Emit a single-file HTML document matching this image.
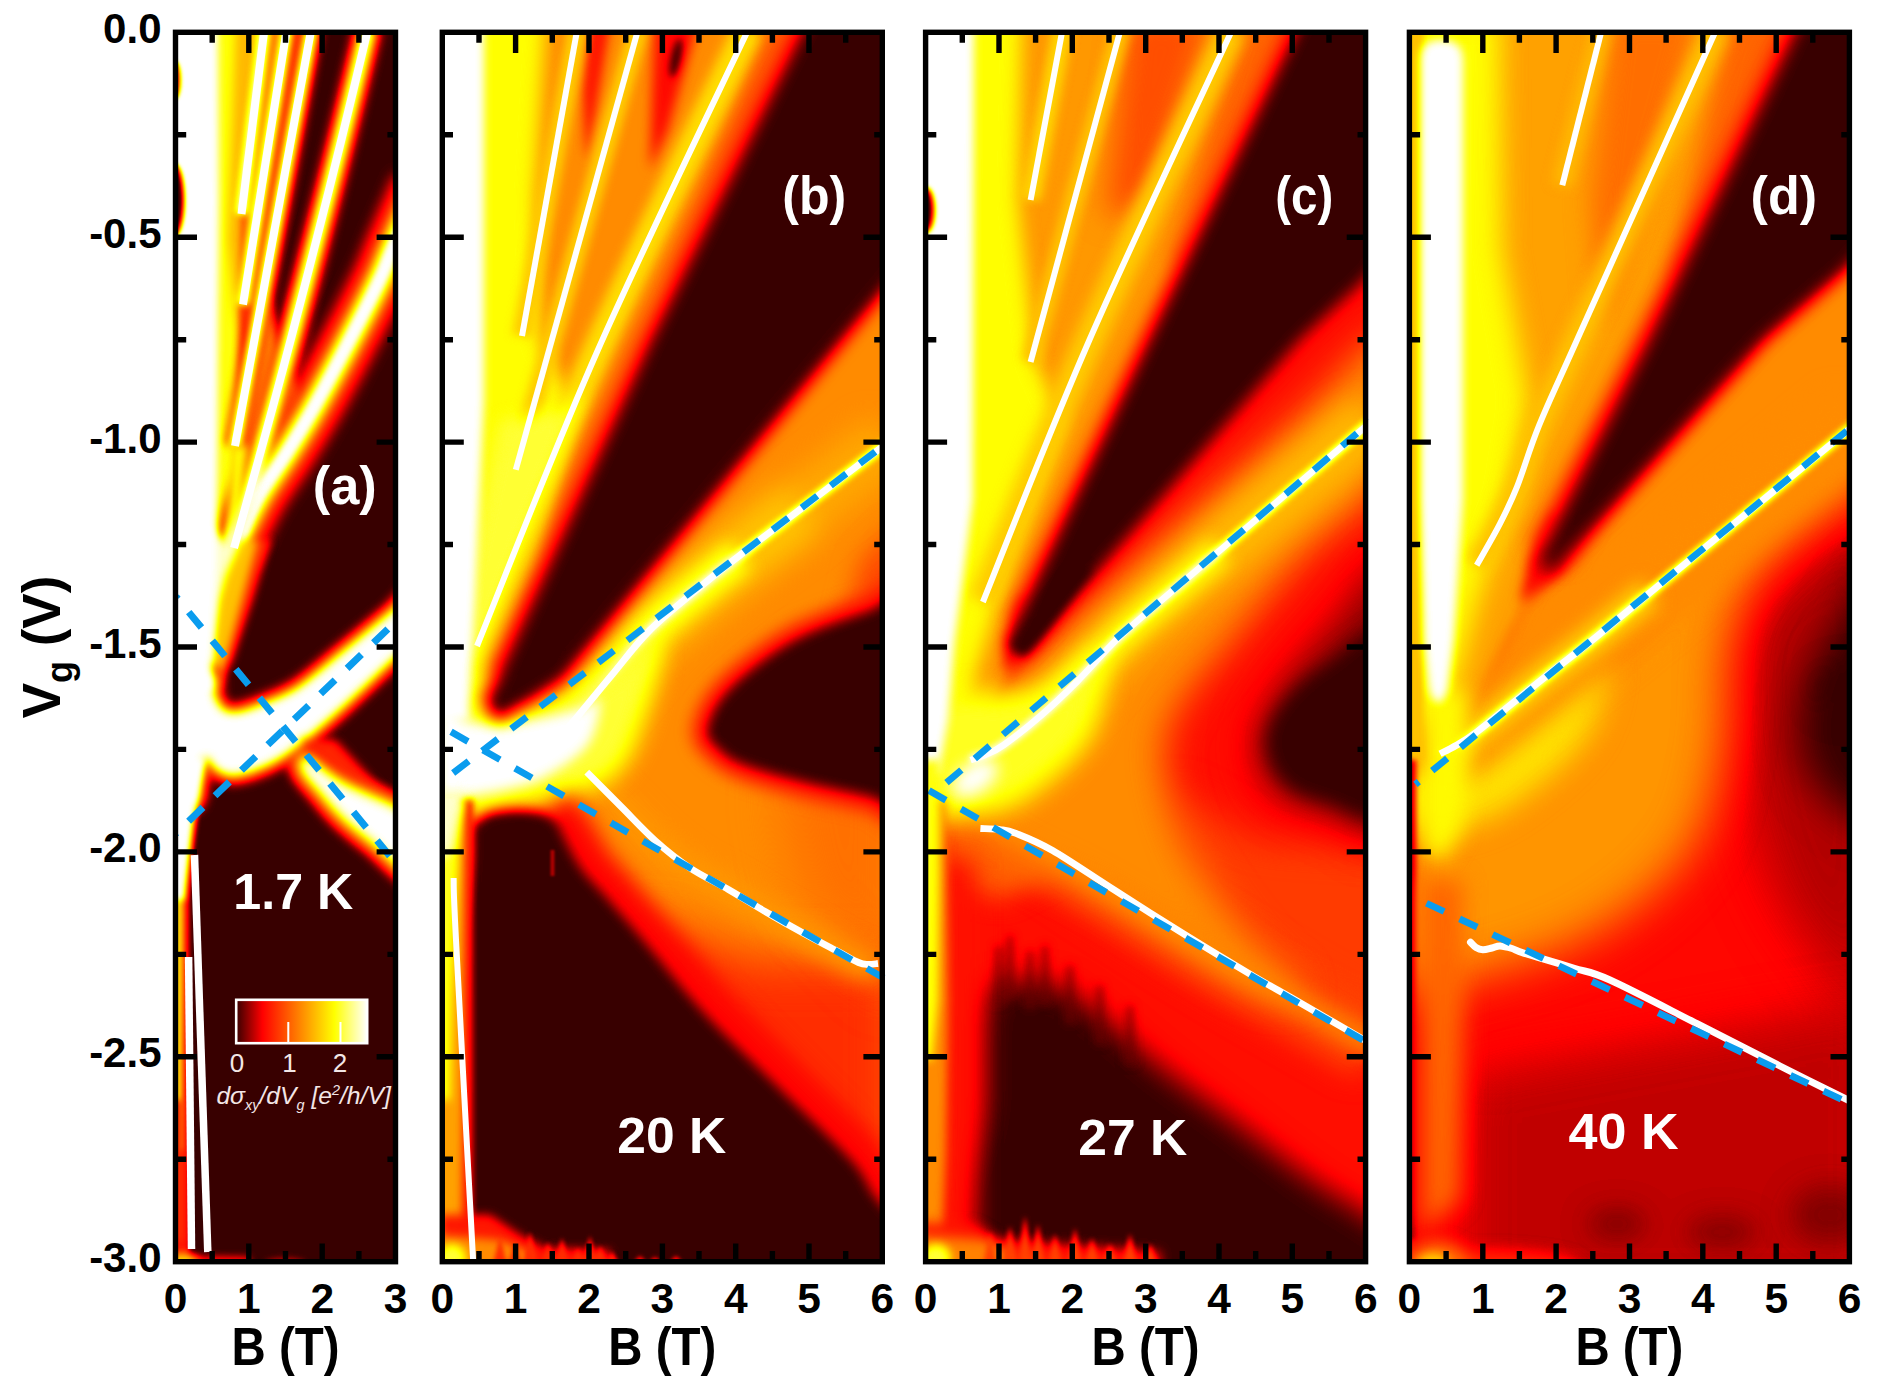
<!DOCTYPE html>
<html><head><meta charset="utf-8"><title>Figure</title><style>html,body{margin:0;padding:0;background:#fff}svg{display:block}</style></head><body>
<svg width="1879" height="1391" viewBox="0 0 1879 1391">
<defs>
<filter id="cmap" color-interpolation-filters="sRGB" filterUnits="userSpaceOnUse" x="0" y="0" width="1879" height="1391"><feComponentTransfer><feFuncR type="table" tableValues="0.220 0.318 0.415 0.512 0.610 0.708 0.805 0.902 1.000 1.000 1.000 1.000 1.000 1.000 1.000 1.000 1.000 1.000 1.000 1.000 1.000 1.000 1.000 1.000 1.000 1.000 1.000 1.000 1.000 1.000 1.000 1.000 1.000 1.000 1.000 1.000 1.000 1.000 1.000 1.000 1.000"/><feFuncG type="table" tableValues="0.000 0.000 0.000 0.000 0.000 0.000 0.000 0.000 0.000 0.045 0.091 0.136 0.182 0.227 0.273 0.318 0.364 0.409 0.455 0.500 0.545 0.591 0.636 0.682 0.727 0.773 0.818 0.864 0.909 0.955 1.000 1.000 1.000 1.000 1.000 1.000 1.000 1.000 1.000 1.000 1.000"/><feFuncB type="table" tableValues="0.000 0.000 0.000 0.000 0.000 0.000 0.000 0.000 0.000 0.000 0.000 0.000 0.000 0.000 0.000 0.000 0.000 0.000 0.000 0.000 0.000 0.000 0.000 0.000 0.000 0.000 0.000 0.000 0.000 0.000 0.000 0.100 0.200 0.300 0.400 0.500 0.600 0.700 0.800 0.900 1.000"/></feComponentTransfer></filter>
<filter id="b1" color-interpolation-filters="sRGB" filterUnits="userSpaceOnUse" x="0" y="0" width="1879" height="1391"><feGaussianBlur stdDeviation="1"/></filter>
<filter id="b2" color-interpolation-filters="sRGB" filterUnits="userSpaceOnUse" x="0" y="0" width="1879" height="1391"><feGaussianBlur stdDeviation="2"/></filter>
<filter id="b2_5" color-interpolation-filters="sRGB" filterUnits="userSpaceOnUse" x="0" y="0" width="1879" height="1391"><feGaussianBlur stdDeviation="2.5"/></filter>
<filter id="b3" color-interpolation-filters="sRGB" filterUnits="userSpaceOnUse" x="0" y="0" width="1879" height="1391"><feGaussianBlur stdDeviation="3"/></filter>
<filter id="b3_5" color-interpolation-filters="sRGB" filterUnits="userSpaceOnUse" x="0" y="0" width="1879" height="1391"><feGaussianBlur stdDeviation="3.5"/></filter>
<filter id="b4" color-interpolation-filters="sRGB" filterUnits="userSpaceOnUse" x="0" y="0" width="1879" height="1391"><feGaussianBlur stdDeviation="4"/></filter>
<filter id="b4_5" color-interpolation-filters="sRGB" filterUnits="userSpaceOnUse" x="0" y="0" width="1879" height="1391"><feGaussianBlur stdDeviation="4.5"/></filter>
<filter id="b5" color-interpolation-filters="sRGB" filterUnits="userSpaceOnUse" x="0" y="0" width="1879" height="1391"><feGaussianBlur stdDeviation="5"/></filter>
<filter id="b6" color-interpolation-filters="sRGB" filterUnits="userSpaceOnUse" x="0" y="0" width="1879" height="1391"><feGaussianBlur stdDeviation="6"/></filter>
<filter id="b7" color-interpolation-filters="sRGB" filterUnits="userSpaceOnUse" x="0" y="0" width="1879" height="1391"><feGaussianBlur stdDeviation="7"/></filter>
<filter id="b8" color-interpolation-filters="sRGB" filterUnits="userSpaceOnUse" x="0" y="0" width="1879" height="1391"><feGaussianBlur stdDeviation="8"/></filter>
<filter id="b9" color-interpolation-filters="sRGB" filterUnits="userSpaceOnUse" x="0" y="0" width="1879" height="1391"><feGaussianBlur stdDeviation="9"/></filter>
<filter id="b10" color-interpolation-filters="sRGB" filterUnits="userSpaceOnUse" x="0" y="0" width="1879" height="1391"><feGaussianBlur stdDeviation="10"/></filter>
<filter id="b11" color-interpolation-filters="sRGB" filterUnits="userSpaceOnUse" x="0" y="0" width="1879" height="1391"><feGaussianBlur stdDeviation="11"/></filter>
<filter id="b12" color-interpolation-filters="sRGB" filterUnits="userSpaceOnUse" x="0" y="0" width="1879" height="1391"><feGaussianBlur stdDeviation="12"/></filter>
<filter id="b13" color-interpolation-filters="sRGB" filterUnits="userSpaceOnUse" x="0" y="0" width="1879" height="1391"><feGaussianBlur stdDeviation="13"/></filter>
<filter id="b14" color-interpolation-filters="sRGB" filterUnits="userSpaceOnUse" x="0" y="0" width="1879" height="1391"><feGaussianBlur stdDeviation="14"/></filter>
<filter id="b15" color-interpolation-filters="sRGB" filterUnits="userSpaceOnUse" x="0" y="0" width="1879" height="1391"><feGaussianBlur stdDeviation="15"/></filter>
<filter id="b18" color-interpolation-filters="sRGB" filterUnits="userSpaceOnUse" x="0" y="0" width="1879" height="1391"><feGaussianBlur stdDeviation="18"/></filter>
<filter id="b20" color-interpolation-filters="sRGB" filterUnits="userSpaceOnUse" x="0" y="0" width="1879" height="1391"><feGaussianBlur stdDeviation="20"/></filter>
<filter id="b24" color-interpolation-filters="sRGB" filterUnits="userSpaceOnUse" x="0" y="0" width="1879" height="1391"><feGaussianBlur stdDeviation="24"/></filter>
<filter id="b25" color-interpolation-filters="sRGB" filterUnits="userSpaceOnUse" x="0" y="0" width="1879" height="1391"><feGaussianBlur stdDeviation="25"/></filter>
<filter id="b28" color-interpolation-filters="sRGB" filterUnits="userSpaceOnUse" x="0" y="0" width="1879" height="1391"><feGaussianBlur stdDeviation="28"/></filter>
<clipPath id="clipa"><rect x="175.5" y="32.3" width="220.0" height="1229.4"/></clipPath>
<clipPath id="clipb"><rect x="442.3" y="32.3" width="440.0" height="1229.4"/></clipPath>
<clipPath id="clipc"><rect x="925.6" y="32.3" width="440.0" height="1229.4"/></clipPath>
<clipPath id="clipd"><rect x="1409.4" y="32.3" width="440.0" height="1229.4"/></clipPath>
<linearGradient id="cbar" x1="0" x2="1" y1="0" y2="0"><stop offset="0" stop-color="#380000"/><stop offset="0.2" stop-color="#ff0000"/><stop offset="0.75" stop-color="#ffff00"/><stop offset="1" stop-color="#ffffff"/></linearGradient>
</defs>
<g clip-path="url(#clipa)"><g filter="url(#cmap)"><rect x="165.5" y="22.3" width="240.0" height="1249.4" fill="#000"/><g filter="url(#b5)"><polygon points="200.0,15.0 270.0,15.0 245.0,214.0 238.0,446.0 232.0,551.0 214.0,692.0 200.0,692.0" fill="rgb(194,194,194)"/><polygon points="236.0,15.0 264.0,15.0 241.0,214.0 236.0,330.0 228.0,240.0" fill="rgb(153,153,153)"/></g><g filter="url(#b4)"><polygon points="262.0,15.0 290.0,15.0 245.0,304.0 240.0,380.0 241.0,214.0" fill="rgb(112,112,112)"/><polygon points="286.0,15.0 314.0,15.0 266.0,280.0 248.0,340.0 244.0,304.0" fill="rgb(74,74,74)"/></g><g filter="url(#b5)"><polygon points="266.0,290.0 282.0,355.0 240.0,520.0 238.0,446.0" fill="rgb(128,128,128)"/><polygon points="290.0,372.0 304.0,400.0 245.0,520.0 250.0,470.0" fill="rgb(128,128,128)"/></g><g filter="url(#b4)"><path d="M311.5 28.0 L235.0 446.0" fill="none" stroke="rgb(76,76,76)" stroke-width="22.0" stroke-linecap="butt" stroke-linejoin="round"/></g><g filter="url(#b5)"><path d="M368.2 28.0 C364.9 41.7 355.2 83.0 348.6 110.0 C342.1 137.0 336.1 161.7 329.0 190.0 C321.9 218.3 313.7 250.7 306.2 280.0 C298.7 309.3 291.4 337.3 283.8 366.0 C276.2 394.7 268.9 421.7 260.6 452.0 C252.3 482.3 238.5 532.0 234.0 548.0" fill="none" stroke="rgb(76,76,76)" stroke-width="28.0" stroke-linecap="butt" stroke-linejoin="round"/></g><g filter="url(#b7)"><path d="M420.0 185.0 C415.3 195.8 398.7 234.2 392.0 250.0 C385.3 265.8 387.1 264.2 379.6 280.0 C372.1 295.8 358.4 323.1 347.2 344.7 C336.0 366.3 322.8 391.4 312.7 409.4 C302.6 427.4 295.9 438.1 286.9 452.5 C277.9 466.9 267.1 481.3 258.8 495.7 C250.5 510.1 242.3 528.9 237.3 538.8 C232.3 548.7 230.4 552.3 229.0 555.0" fill="none" stroke="rgb(76,76,76)" stroke-width="54.0" stroke-linecap="butt" stroke-linejoin="round"/></g><g filter="url(#b3_5)"><path d="M264.5 28.0 L241.5 214.0" fill="none" stroke="rgb(255,255,255)" stroke-width="11.0" stroke-linecap="butt" stroke-linejoin="round"/><path d="M287.0 28.0 L243.0 304.5" fill="none" stroke="rgb(255,255,255)" stroke-width="11.0" stroke-linecap="butt" stroke-linejoin="round"/><path d="M311.5 28.0 L235.0 446.0" fill="none" stroke="rgb(255,255,255)" stroke-width="11.0" stroke-linecap="butt" stroke-linejoin="round"/></g><g filter="url(#b4_5)"><path d="M368.2 28.0 C364.9 41.7 355.2 83.0 348.6 110.0 C342.1 137.0 336.1 161.7 329.0 190.0 C321.9 218.3 313.7 250.7 306.2 280.0 C298.7 309.3 291.4 337.3 283.8 366.0 C276.2 394.7 268.9 421.7 260.6 452.0 C252.3 482.3 238.5 532.0 234.0 548.0" fill="none" stroke="rgb(255,255,255)" stroke-width="14.0" stroke-linecap="butt" stroke-linejoin="round"/></g><g filter="url(#b6)"><path d="M420.0 185.0 C415.3 195.8 398.7 234.2 392.0 250.0 C385.3 265.8 387.1 264.2 379.6 280.0 C372.1 295.8 358.4 323.1 347.2 344.7 C336.0 366.3 322.8 391.4 312.7 409.4 C302.6 427.4 295.9 438.1 286.9 452.5 C277.9 466.9 267.1 481.3 258.8 495.7 C250.5 510.1 242.3 528.9 237.3 538.8 C232.3 548.7 230.4 552.3 229.0 555.0" fill="none" stroke="rgb(255,255,255)" stroke-width="22.0" stroke-linecap="butt" stroke-linejoin="round"/></g><g filter="url(#b2_5)"><path d="M420.0 185.0 C415.3 195.8 398.7 234.2 392.0 250.0 C385.3 265.8 387.1 264.2 379.6 280.0 C372.1 295.8 358.4 323.1 347.2 344.7 C336.0 366.3 322.8 391.4 312.7 409.4 C302.6 427.4 295.9 438.1 286.9 452.5 C277.9 466.9 267.1 481.3 258.8 495.7 C250.5 510.1 242.3 528.9 237.3 538.8 C232.3 548.7 230.4 552.3 229.0 555.0" fill="none" stroke="rgb(255,255,255)" stroke-width="9.0" stroke-linecap="butt" stroke-linejoin="round"/></g><g filter="url(#b4)"><polygon points="205.0,540.0 270.0,540.0 252.0,600.0 232.0,660.0 216.0,692.0 205.0,700.0" fill="rgb(76,76,76)"/><polygon points="205.0,540.0 258.0,540.0 242.0,600.0 226.0,660.0 213.0,690.0 205.0,700.0" fill="rgb(158,158,158)"/><polygon points="232.0,446.0 247.0,446.0 238.0,540.0 226.0,552.0" fill="rgb(194,194,194)"/><polygon points="205.0,520.0 226.0,545.0 240.0,515.0 252.0,495.0 262.0,480.0 250.0,520.0 238.0,548.0 226.0,575.0 219.0,600.0 213.0,640.0 209.0,680.0 205.0,690.0" fill="rgb(242,242,242)"/></g><g filter="url(#b5)"><path d="M420.0 588.0 C415.3 584.8 404.8 602.1 392.0 613.0 C379.2 623.9 358.6 640.8 343.0 653.5 C327.4 666.2 311.6 680.5 298.6 689.0 C285.6 697.5 275.0 700.6 265.0 704.7 C255.0 708.8 245.5 712.5 238.5 713.6 C231.5 714.7 227.2 714.3 223.0 711.4 C218.8 708.5 215.3 702.1 213.0 696.0 C210.7 689.9 217.8 678.5 209.0 675.0 C200.2 671.5 168.2 654.2 160.0 675.0 C151.8 695.8 154.7 778.7 160.0 800.0 C165.3 821.3 185.3 806.0 191.7 802.7 C198.1 799.5 196.5 788.0 198.4 780.5 C200.3 773.0 201.3 762.1 203.0 758.0 C204.7 753.9 206.2 754.5 208.4 756.0 C210.6 757.5 212.1 764.0 216.0 767.0 C219.9 770.0 225.5 773.5 231.8 773.8 C238.1 774.1 245.8 772.0 254.0 769.0 C262.2 766.0 271.5 761.9 280.8 756.0 C290.1 750.1 299.4 742.2 309.8 733.7 C320.2 725.2 329.3 717.3 343.0 704.7 C356.7 692.1 379.2 670.1 392.0 658.0 C404.8 645.9 415.3 643.7 420.0 632.0 C424.7 620.3 424.7 591.2 420.0 588.0Z" fill="none" stroke="rgb(76,76,76)" stroke-width="22"/><path d="M306.0 756.0 C313.2 757.8 324.0 770.0 343.0 781.0 C362.0 792.0 407.2 805.2 420.0 822.0 C432.8 838.8 428.0 878.2 420.0 882.0 C412.0 885.8 385.3 855.7 372.0 845.0 C358.7 834.3 349.0 826.7 340.0 818.0 C331.0 809.3 324.7 801.0 318.0 793.0 C311.3 785.0 302.0 776.2 300.0 770.0 C298.0 763.8 298.8 754.2 306.0 756.0Z" fill="none" stroke="rgb(76,76,76)" stroke-width="22"/></g><g filter="url(#b3_5)"><polygon points="160.0,15.0 218.0,15.0 219.0,200.0 217.0,560.0 211.0,690.0 160.0,690.0" fill="rgb(255,255,255)"/></g><g filter="url(#b2)"><ellipse cx="174.0" cy="200.0" rx="10.0" ry="36.0" fill="rgb(0,0,0)"/><ellipse cx="175.0" cy="80.0" rx="5.0" ry="18.0" fill="rgb(38,38,38)"/></g><g filter="url(#b5)"><path d="M420.0 588.0 C415.3 584.8 404.8 602.1 392.0 613.0 C379.2 623.9 358.6 640.8 343.0 653.5 C327.4 666.2 311.6 680.5 298.6 689.0 C285.6 697.5 275.0 700.6 265.0 704.7 C255.0 708.8 245.5 712.5 238.5 713.6 C231.5 714.7 227.2 714.3 223.0 711.4 C218.8 708.5 215.3 702.1 213.0 696.0 C210.7 689.9 217.8 678.5 209.0 675.0 C200.2 671.5 168.2 654.2 160.0 675.0 C151.8 695.8 154.7 778.7 160.0 800.0 C165.3 821.3 185.3 806.0 191.7 802.7 C198.1 799.5 196.5 788.0 198.4 780.5 C200.3 773.0 201.3 762.1 203.0 758.0 C204.7 753.9 206.2 754.5 208.4 756.0 C210.6 757.5 212.1 764.0 216.0 767.0 C219.9 770.0 225.5 773.5 231.8 773.8 C238.1 774.1 245.8 772.0 254.0 769.0 C262.2 766.0 271.5 761.9 280.8 756.0 C290.1 750.1 299.4 742.2 309.8 733.7 C320.2 725.2 329.3 717.3 343.0 704.7 C356.7 692.1 379.2 670.1 392.0 658.0 C404.8 645.9 415.3 643.7 420.0 632.0 C424.7 620.3 424.7 591.2 420.0 588.0Z" fill="rgb(255,255,255)" stroke="rgb(255,255,255)" stroke-width="5"/><polygon points="300.0,738.0 335.0,740.0 375.0,783.0 395.0,800.0 395.0,815.0 340.0,785.0" fill="rgb(71,71,71)"/></g><g filter="url(#b6)"><path d="M306.0 756.0 C313.2 757.8 324.0 770.0 343.0 781.0 C362.0 792.0 407.2 805.2 420.0 822.0 C432.8 838.8 428.0 878.2 420.0 882.0 C412.0 885.8 385.3 855.7 372.0 845.0 C358.7 834.3 349.0 826.7 340.0 818.0 C331.0 809.3 324.7 801.0 318.0 793.0 C311.3 785.0 302.0 776.2 300.0 770.0 C298.0 763.8 298.8 754.2 306.0 756.0Z" fill="rgb(255,255,255)"/></g><g filter="url(#b2_5)"><polygon points="160.0,800.0 190.0,800.0 189.0,900.0 189.0,1262.0 160.0,1262.0" fill="rgb(64,64,64)"/><polygon points="160.0,800.0 184.0,800.0 183.0,1000.0 182.0,1150.0 160.0,1150.0" fill="rgb(168,168,168)"/></g><g filter="url(#b3)"><polygon points="160.0,1100.0 183.0,1100.0 183.0,1240.0 160.0,1240.0" fill="rgb(76,76,76)"/><polygon points="160.0,760.0 204.0,758.0 198.0,795.0 193.0,830.0 188.0,870.0 184.0,900.0 160.0,900.0" fill="rgb(255,255,255)"/></g><g filter="url(#b3_5)"><polygon points="160.0,1256.0 250.0,1257.0 250.0,1275.0 160.0,1275.0" fill="rgb(64,64,64)"/></g><g filter="url(#b4)"><ellipse cx="182.0" cy="1264.0" rx="16.0" ry="10.0" fill="rgb(178,178,178)"/></g><g filter="url(#b3)"><ellipse cx="285.0" cy="1264.0" rx="20.0" ry="5.0" fill="rgb(51,51,51)"/></g></g></g>
<g clip-path="url(#clipb)"><g filter="url(#cmap)"><rect x="432.3" y="22.3" width="460.0" height="1249.4" fill="#000"/><polygon points="430.0,15.0 900.0,15.0 900.0,1280.0 430.0,1280.0" fill="rgb(128,128,128)"/><g filter="url(#b9)"><polygon points="430.0,15.0 546.0,15.0 535.0,200.0 540.0,340.0 572.0,400.0 540.0,560.0 480.0,700.0 430.0,700.0" fill="rgb(191,191,191)"/></g><g filter="url(#b5)"><polygon points="590.0,15.0 612.0,15.0 596.0,110.0 585.0,160.0 583.0,90.0" fill="rgb(64,64,64)"/></g><g filter="url(#b6)"><polygon points="655.0,15.0 700.0,15.0 668.0,130.0 650.0,170.0 652.0,90.0" fill="rgb(56,56,56)"/></g><g filter="url(#b3_5)"><ellipse cx="676.0" cy="58.0" rx="5.0" ry="20.0" fill="rgb(0,0,0)" transform="rotate(12.0 676.0 58.0)"/></g><g filter="url(#b8)"><polygon points="770.0,15.0 830.0,15.0 700.0,280.0 670.0,280.0" fill="rgb(107,107,107)"/></g><g filter="url(#b6)"><path d="M749.0 28.0 C723.7 82.0 642.3 249.0 597.0 352.0 C551.7 455.0 497.0 597.0 477.0 646.0" fill="none" stroke="rgb(173,173,173)" stroke-width="30.0" stroke-linecap="butt" stroke-linejoin="round"/></g><g filter="url(#b4)"><path d="M638.5 28.0 L515.8 469.7" fill="none" stroke="rgb(163,163,163)" stroke-width="20.0" stroke-linecap="butt" stroke-linejoin="round"/><path d="M577.5 28.0 L522.0 336.0" fill="none" stroke="rgb(163,163,163)" stroke-width="20.0" stroke-linecap="butt" stroke-linejoin="round"/></g><g filter="url(#b8)"><polygon points="500.0,420.0 560.0,410.0 585.0,390.0 520.0,560.0 470.0,700.0 440.0,700.0" fill="rgb(204,204,204)"/></g><g filter="url(#b14)"><path d="M560.0 737.0 C563.0 733.5 569.5 726.2 578.0 716.0 C586.5 705.8 599.0 690.3 611.0 676.0 C623.0 661.7 635.2 644.8 650.0 630.0 C664.8 615.2 685.0 599.5 700.0 587.0 C715.0 574.5 723.0 568.4 740.0 555.2 C757.0 542.0 777.0 527.0 802.0 508.0 C827.0 489.0 875.3 452.2 890.0 441.0" fill="none" stroke="rgb(143,143,143)" stroke-width="60.0" stroke-linecap="butt" stroke-linejoin="round"/><path d="M560.0 737.0 C563.0 733.5 569.5 726.2 578.0 716.0 C586.5 705.8 599.0 690.3 611.0 676.0 C623.0 661.7 635.2 644.8 650.0 630.0 C664.8 615.2 685.0 599.5 700.0 587.0 C715.0 574.5 723.0 568.4 740.0 555.2 C757.0 542.0 791.7 515.9 802.0 508.0" fill="none" stroke="rgb(158,158,158)" stroke-width="64.0" stroke-linecap="butt" stroke-linejoin="round"/></g><g filter="url(#b9)"><path d="M560.0 737.0 C563.0 733.5 569.5 726.2 578.0 716.0 C586.5 705.8 599.0 690.3 611.0 676.0 C623.0 661.7 635.2 644.8 650.0 630.0 C664.8 615.2 685.0 599.5 700.0 587.0 C715.0 574.5 733.3 560.5 740.0 555.2" fill="none" stroke="rgb(204,204,204)" stroke-width="34.0" stroke-linecap="butt" stroke-linejoin="round"/></g><g filter="url(#b3)"><path d="M560.0 737.0 C563.0 733.5 569.5 726.2 578.0 716.0 C586.5 705.8 599.0 690.3 611.0 676.0 C623.0 661.7 635.2 644.8 650.0 630.0 C664.8 615.2 685.0 599.5 700.0 587.0 C715.0 574.5 723.0 568.4 740.0 555.2 C757.0 542.0 777.0 527.0 802.0 508.0 C827.0 489.0 875.3 452.2 890.0 441.0" fill="none" stroke="rgb(255,255,255)" stroke-width="9.0" stroke-linecap="butt" stroke-linejoin="round"/></g><g filter="url(#b12)"><polygon points="900.0,520.0 900.0,640.0 840.0,640.0 860.0,560.0" fill="rgb(92,92,92)"/></g><g filter="url(#b24)"><polygon points="900.0,960.0 900.0,1280.0 640.0,1280.0 640.0,920.0 760.0,960.0" fill="rgb(76,76,76)"/></g><g filter="url(#b25)"><polygon points="900.0,640.0 900.0,1000.0 800.0,900.0 780.0,800.0 800.0,700.0" fill="rgb(107,107,107)" opacity="0.70"/></g><g filter="url(#b10)"><path d="M586.8 772.2 C592.5 777.9 609.6 795.1 621.0 806.5 C632.4 817.9 643.9 830.5 655.3 840.7 C666.7 850.9 677.4 859.5 689.6 867.7 C701.9 875.9 716.1 882.4 728.8 889.7 C741.4 897.0 753.3 904.6 765.5 911.7 C777.7 918.8 790.0 925.8 802.2 932.5 C814.4 939.2 829.5 947.1 838.9 952.1 C848.3 957.1 853.6 960.4 858.5 962.5 C863.4 964.6 864.8 964.3 868.0 964.5 C871.2 964.7 876.3 963.7 878.0 963.5" fill="none" stroke="rgb(133,133,133)" stroke-width="30.0" stroke-linecap="butt" stroke-linejoin="round"/></g><g filter="url(#b11)"><path d="M440.0 690.0 C450.0 671.7 480.0 698.3 500.0 700.0 C520.0 701.7 541.7 705.0 560.0 700.0 C578.3 695.0 593.3 680.0 610.0 670.0 C626.7 660.0 654.2 631.7 660.0 640.0 C665.8 648.3 653.3 696.7 645.0 720.0 C636.7 743.3 630.8 765.8 610.0 780.0 C589.2 794.2 548.3 800.0 520.0 805.0 C491.7 810.0 453.3 829.2 440.0 810.0 C426.7 790.8 430.0 708.3 440.0 690.0Z" fill="rgb(204,204,204)"/></g><g filter="url(#b6)"><path d="M440.0 705.0 C445.0 692.5 456.7 719.2 470.0 722.0 C483.3 724.8 501.3 724.3 520.0 722.0 C538.7 719.7 568.7 711.7 582.0 708.0 C595.3 704.3 599.0 693.8 600.0 700.0 C601.0 706.2 597.2 732.2 588.0 745.0 C578.8 757.8 558.3 769.7 545.0 777.0 C531.7 784.3 522.2 785.7 508.0 789.0 C493.8 792.3 471.3 795.7 460.0 797.0 C448.7 798.3 443.3 812.3 440.0 797.0 C436.7 781.7 435.0 717.5 440.0 705.0Z" fill="rgb(255,255,255)"/></g><g filter="url(#b4_5)"><polygon points="430.0,15.0 484.0,15.0 484.0,400.0 475.0,600.0 468.0,720.0 430.0,720.0" fill="rgb(255,255,255)"/></g><g filter="url(#b10)"><path d="M822.0 10.0 C795.0 65.0 712.8 228.0 660.0 340.0 C607.2 452.0 530.8 625.0 505.0 682.0" fill="none" stroke="rgb(76,76,76)" stroke-width="44.0" stroke-linecap="butt" stroke-linejoin="round"/></g><g filter="url(#b8)"><polygon points="812.0,10.0 910.0,10.0 910.0,262.0 882.0,296.5 846.0,340.0 565.0,680.0 500.0,722.0 486.0,712.0 484.0,696.0 496.0,680.0 650.0,340.0" fill="rgb(0,0,0)"/><path d="M707.0 731.0 C707.5 723.0 712.3 710.5 720.0 700.0 C727.7 689.5 739.3 678.7 753.0 668.0 C766.7 657.3 782.5 645.7 802.0 636.0 C821.5 626.3 848.7 617.7 870.0 610.0 C891.3 602.3 920.0 556.3 930.0 590.0 C940.0 623.7 940.0 777.5 930.0 812.0 C920.0 846.5 891.3 802.0 870.0 797.0 C848.7 792.0 823.5 787.5 802.0 782.0 C780.5 776.5 755.2 769.7 741.0 764.0 C726.8 758.3 722.7 753.5 717.0 748.0 C711.3 742.5 706.5 739.0 707.0 731.0Z" fill="none" stroke="rgb(64,64,64)" stroke-width="30"/></g><g filter="url(#b6)"><path d="M707.0 731.0 C707.5 723.0 712.3 710.5 720.0 700.0 C727.7 689.5 739.3 678.7 753.0 668.0 C766.7 657.3 782.5 645.7 802.0 636.0 C821.5 626.3 848.7 617.7 870.0 610.0 C891.3 602.3 920.0 556.3 930.0 590.0 C940.0 623.7 940.0 777.5 930.0 812.0 C920.0 846.5 891.3 802.0 870.0 797.0 C848.7 792.0 823.5 787.5 802.0 782.0 C780.5 776.5 755.2 769.7 741.0 764.0 C726.8 758.3 722.7 753.5 717.0 748.0 C711.3 742.5 706.5 739.0 707.0 731.0Z" fill="rgb(0,0,0)"/></g><g filter="url(#b10)"><path d="M545,815 L562,836 L582,870 L606,897 L643,940 L704,1013 L778,1087 L851,1160 L875,1197 L900,1230" fill="none" stroke="rgb(54,54,54)" stroke-width="64" stroke-linejoin="round"/></g><g filter="url(#b6)"><path d="M470.0 1290.0 C396.7 1216.7 469.3 927.5 470.0 850.0 C470.7 772.5 471.0 831.2 474.0 825.0 C477.0 818.8 481.2 815.7 488.0 813.0 C494.8 810.3 506.3 809.2 515.0 809.0 C523.7 808.8 533.2 809.8 540.0 812.0 C546.8 814.2 551.7 817.0 556.0 822.0 C560.3 827.0 561.7 834.0 566.0 842.0 C570.3 850.0 575.3 860.8 582.0 870.0 C588.7 879.2 595.8 885.3 606.0 897.0 C616.2 908.7 626.7 920.7 643.0 940.0 C659.3 959.3 681.5 988.5 704.0 1013.0 C726.5 1037.5 753.5 1062.5 778.0 1087.0 C802.5 1111.5 834.8 1141.7 851.0 1160.0 C867.2 1178.3 865.2 1183.7 875.0 1197.0 C884.8 1210.3 904.2 1224.5 910.0 1240.0 C915.8 1255.5 983.3 1281.7 910.0 1290.0 C836.7 1298.3 543.3 1363.3 470.0 1290.0Z" fill="rgb(0,0,0)"/></g><g filter="url(#b3)"><polygon points="430.0,800.0 473.0,800.0 473.0,1290.0 430.0,1290.0" fill="rgb(56,56,56)"/></g><g filter="url(#b4)"><polygon points="430.0,800.0 466.0,800.0 464.0,1000.0 462.0,1290.0 430.0,1290.0" fill="rgb(140,140,140)"/><polygon points="430.0,800.0 462.0,800.0 456.0,900.0 452.0,1000.0 450.0,1100.0 430.0,1100.0" fill="rgb(199,199,199)"/></g><g filter="url(#b5)"><polygon points="430.0,790.0 466.0,790.0 458.0,820.0 452.0,850.0 430.0,870.0" fill="rgb(242,242,242)"/><polygon points="440.0,1215.0 490.0,1215.0 520.0,1235.0 545.0,1248.0 610.0,1250.0 610.0,1290.0 440.0,1290.0" fill="rgb(64,64,64)"/><polygon points="440.0,1235.0 500.0,1240.0 530.0,1252.0 530.0,1290.0 440.0,1290.0" fill="rgb(128,128,128)"/></g><g filter="url(#b4)"><ellipse cx="452.0" cy="1258.0" rx="14.0" ry="14.0" fill="rgb(204,204,204)"/></g><g filter="url(#b2)"><polygon points="493.0,1264.0 500.0,1236.0 507.0,1264.0" fill="rgb(76,76,76)"/><polygon points="508.0,1264.0 515.0,1240.0 522.0,1264.0" fill="rgb(76,76,76)"/><polygon points="523.0,1264.0 530.0,1232.0 537.0,1264.0" fill="rgb(76,76,76)"/><polygon points="541.0,1264.0 548.0,1242.0 555.0,1264.0" fill="rgb(76,76,76)"/><polygon points="555.0,1264.0 562.0,1238.0 569.0,1264.0" fill="rgb(76,76,76)"/><polygon points="571.0,1264.0 578.0,1248.0 585.0,1264.0" fill="rgb(76,76,76)"/><polygon points="583.0,1264.0 590.0,1236.0 597.0,1264.0" fill="rgb(76,76,76)"/><polygon points="593.0,1264.0 600.0,1246.0 607.0,1264.0" fill="rgb(76,76,76)"/><polygon points="605.0,1264.0 612.0,1252.0 619.0,1264.0" fill="rgb(76,76,76)"/><polygon points="633.0,1264.0 640.0,1256.0 647.0,1264.0" fill="rgb(76,76,76)"/><polygon points="648.0,1264.0 655.0,1257.0 662.0,1264.0" fill="rgb(76,76,76)"/><polygon points="669.0,1264.0 676.0,1256.0 683.0,1264.0" fill="rgb(76,76,76)"/></g><g filter="url(#b1)"><polygon points="550.5,850.0 554.5,850.0 554.5,876.0 550.5,876.0" fill="rgb(31,31,31)"/></g></g></g>
<g clip-path="url(#clipc)"><g filter="url(#cmap)"><rect x="915.6" y="22.3" width="460.0" height="1249.4" fill="#000"/><polygon points="910.0,15.0 1380.0,15.0 1380.0,1280.0 910.0,1280.0" fill="rgb(59,59,59)"/><g filter="url(#b18)"><polygon points="1170.0,790.0 1260.0,840.0 1400.0,850.0 1400.0,1040.0 1250.0,960.0 1180.0,900.0" fill="rgb(84,84,84)"/></g><g filter="url(#b14)"><path d="M980.4 828.5 C983.7 828.7 994.1 828.7 1000.0 829.5 C1005.9 830.3 1007.2 829.9 1016.0 833.4 C1024.8 836.9 1036.3 841.1 1052.6 850.5 C1068.9 859.9 1091.3 875.4 1113.8 889.7 C1136.2 904.0 1164.6 922.1 1187.3 936.2 C1210.0 950.3 1231.2 963.0 1250.0 974.1 C1268.8 985.2 1279.2 990.8 1300.0 1002.8 C1320.8 1014.8 1362.5 1038.8 1375.0 1046.0" fill="none" stroke="rgb(92,92,92)" stroke-width="70.0" stroke-linecap="butt" stroke-linejoin="round"/></g><g filter="url(#b8)"><path d="M980.4 828.5 C983.7 828.7 994.1 828.7 1000.0 829.5 C1005.9 830.3 1007.2 829.9 1016.0 833.4 C1024.8 836.9 1036.3 841.1 1052.6 850.5 C1068.9 859.9 1091.3 875.4 1113.8 889.7 C1136.2 904.0 1164.6 922.1 1187.3 936.2 C1210.0 950.3 1231.2 963.0 1250.0 974.1 C1268.8 985.2 1279.2 990.8 1300.0 1002.8 C1320.8 1014.8 1362.5 1038.8 1375.0 1046.0" fill="none" stroke="rgb(117,117,117)" stroke-width="26.0" stroke-linecap="butt" stroke-linejoin="round"/></g><g filter="url(#b12)"><polygon points="940.0,800.0 1010.0,840.0 1060.0,870.0 1000.0,900.0 945.0,880.0" fill="rgb(102,102,102)"/></g><g filter="url(#b18)"><path d="M930.0 780.0 C930.0 754.2 965.0 726.7 1000.0 690.0 C1035.0 653.3 1090.0 605.8 1140.0 560.0 C1190.0 514.2 1258.3 452.5 1300.0 415.0 C1341.7 377.5 1375.0 325.8 1390.0 335.0 C1405.0 344.2 1405.0 432.5 1390.0 470.0 C1375.0 507.5 1326.3 531.7 1300.0 560.0 C1273.7 588.3 1252.0 615.8 1232.0 640.0 C1212.0 664.2 1191.2 685.0 1180.0 705.0 C1168.8 725.0 1163.3 735.8 1165.0 760.0 C1166.7 784.2 1175.8 820.0 1190.0 850.0 C1204.2 880.0 1231.7 916.7 1250.0 940.0 C1268.3 963.3 1300.0 982.5 1300.0 990.0 C1300.0 997.5 1283.3 1000.8 1250.0 985.0 C1216.7 969.2 1141.7 918.3 1100.0 895.0 C1058.3 871.7 1028.3 864.2 1000.0 845.0 C971.7 825.8 930.0 805.8 930.0 780.0Z" fill="rgb(128,128,128)"/></g><g filter="url(#b6)"><polygon points="910.0,15.0 1320.0,15.0 1160.0,340.0 1030.0,622.0 1000.0,690.0 960.0,770.0 910.0,770.0" fill="rgb(135,135,135)"/></g><g filter="url(#b14)"><polygon points="1128.0,15.0 1212.0,15.0 1150.0,200.0 1105.0,220.0" fill="rgb(94,94,94)"/></g><g filter="url(#b10)"><polygon points="1240.0,15.0 1330.0,15.0 1200.0,280.0 1170.0,260.0" fill="rgb(107,107,107)"/></g><g filter="url(#b9)"><polygon points="910.0,15.0 1022.0,15.0 1018.0,200.0 1035.0,360.0 1062.0,420.0 1010.0,560.0 968.0,700.0 910.0,720.0" fill="rgb(191,191,191)"/></g><g filter="url(#b7)"><path d="M1233.0 28.0 C1209.1 80.0 1131.1 244.3 1089.4 340.0 C1047.7 435.7 1000.6 558.3 982.9 602.0" fill="none" stroke="rgb(163,163,163)" stroke-width="30.0" stroke-linecap="butt" stroke-linejoin="round"/></g><g filter="url(#b5)"><path d="M1121.0 28.0 L1030.6 362.0" fill="none" stroke="rgb(158,158,158)" stroke-width="20.0" stroke-linecap="butt" stroke-linejoin="round"/><path d="M1062.8 28.0 L1030.6 200.0" fill="none" stroke="rgb(168,168,168)" stroke-width="20.0" stroke-linecap="butt" stroke-linejoin="round"/></g><g filter="url(#b14)"><path d="M970.6 760.0 C973.0 759.2 979.5 757.5 985.0 755.0 C990.5 752.5 994.5 751.5 1003.7 745.0 C1012.9 738.5 1028.2 726.6 1040.4 716.0 C1052.6 705.4 1064.3 694.3 1077.0 681.6 C1089.7 668.9 1102.5 653.4 1116.3 640.0 C1130.1 626.6 1142.7 616.4 1160.0 601.5 C1177.3 586.6 1196.7 570.2 1220.0 550.4 C1243.3 530.5 1274.2 504.3 1300.0 482.3 C1325.8 460.3 1362.5 429.1 1375.0 418.5" fill="none" stroke="rgb(153,153,153)" stroke-width="60.0" stroke-linecap="butt" stroke-linejoin="round"/></g><g filter="url(#b9)"><path d="M970.6 760.0 C973.0 759.2 979.5 757.5 985.0 755.0 C990.5 752.5 994.5 751.5 1003.7 745.0 C1012.9 738.5 1028.2 726.6 1040.4 716.0 C1052.6 705.4 1064.3 694.3 1077.0 681.6 C1089.7 668.9 1102.5 653.4 1116.3 640.0 C1130.1 626.6 1142.7 616.4 1160.0 601.5 C1177.3 586.6 1210.0 558.9 1220.0 550.4" fill="none" stroke="rgb(194,194,194)" stroke-width="30.0" stroke-linecap="butt" stroke-linejoin="round"/></g><g filter="url(#b12)"><path d="M915.0 700.0 C922.5 680.0 939.2 691.7 960.0 690.0 C980.8 688.3 1016.7 696.7 1040.0 690.0 C1063.3 683.3 1090.8 643.3 1100.0 650.0 C1109.2 656.7 1105.0 706.7 1095.0 730.0 C1085.0 753.3 1058.3 775.8 1040.0 790.0 C1021.7 804.2 1005.8 811.7 985.0 815.0 C964.2 818.3 926.7 829.2 915.0 810.0 C903.3 790.8 907.5 720.0 915.0 700.0Z" fill="rgb(199,199,199)"/></g><g filter="url(#b3)"><path d="M970.6 760.0 C973.0 759.2 979.5 757.5 985.0 755.0 C990.5 752.5 994.5 751.5 1003.7 745.0 C1012.9 738.5 1028.2 726.6 1040.4 716.0 C1052.6 705.4 1064.3 694.3 1077.0 681.6 C1089.7 668.9 1102.5 653.4 1116.3 640.0 C1130.1 626.6 1142.7 616.4 1160.0 601.5 C1177.3 586.6 1196.7 570.2 1220.0 550.4 C1243.3 530.5 1274.2 504.3 1300.0 482.3 C1325.8 460.3 1362.5 429.1 1375.0 418.5" fill="none" stroke="rgb(255,255,255)" stroke-width="9.0" stroke-linecap="butt" stroke-linejoin="round"/></g><g filter="url(#b8)"><ellipse cx="975.0" cy="778.0" rx="26.0" ry="15.0" fill="rgb(255,255,255)" transform="rotate(-35.0 975.0 778.0)"/></g><g filter="url(#b6)"><polygon points="1062.0,600.0 1036.0,650.0 1004.0,672.0 1004.0,640.0 1022.0,596.0" fill="rgb(56,56,56)"/></g><g filter="url(#b9)"><path d="M1314.0 10.0 C1288.3 65.0 1208.0 237.5 1160.0 340.0 C1112.0 442.5 1048.3 577.5 1026.0 625.0" fill="none" stroke="rgb(76,76,76)" stroke-width="40.0" stroke-linecap="butt" stroke-linejoin="round"/></g><g filter="url(#b8)"><polygon points="1305.0,10.0 1400.0,10.0 1400.0,240.0 1363.0,282.0 1300.0,340.0 1033.0,646.0 1020.0,656.0 1011.0,652.0 1010.0,640.0 1016.0,621.5 1148.0,340.0" fill="rgb(0,0,0)"/></g><g filter="url(#b4)"><path d="M1085.0 565.0 C1077.5 575.0 1051.3 610.7 1040.0 625.0 C1028.7 639.3 1020.8 646.7 1017.0 651.0" fill="none" stroke="rgb(0,0,0)" stroke-width="17.0" stroke-linecap="butt" stroke-linejoin="round"/></g><g filter="url(#b20)"><path d="M1400.0 560.0 C1388.3 526.2 1350.8 603.3 1330.0 625.0 C1309.2 646.7 1288.0 670.0 1275.0 690.0 C1262.0 710.0 1252.5 727.5 1252.0 745.0 C1251.5 762.5 1259.0 782.8 1272.0 795.0 C1285.0 807.2 1308.7 812.5 1330.0 818.0 C1351.3 823.5 1388.3 871.0 1400.0 828.0 C1411.7 785.0 1411.7 593.8 1400.0 560.0Z" fill="rgb(20,20,20)"/></g><g filter="url(#b9)"><path d="M1400.0 630.0 C1387.5 605.8 1344.5 653.0 1325.0 665.0 C1305.5 677.0 1292.8 689.2 1283.0 702.0 C1273.2 714.8 1266.0 728.7 1266.0 742.0 C1266.0 755.3 1273.2 772.0 1283.0 782.0 C1292.8 792.0 1305.5 797.3 1325.0 802.0 C1344.5 806.7 1387.5 838.7 1400.0 810.0 C1412.5 781.3 1412.5 654.2 1400.0 630.0Z" fill="rgb(0,0,0)"/></g><g filter="url(#b4_5)"><polygon points="910.0,15.0 974.0,15.0 973.0,500.0 955.0,640.0 948.0,720.0 938.0,775.0 910.0,775.0" fill="rgb(255,255,255)"/></g><g filter="url(#b2_5)"><ellipse cx="926.0" cy="210.0" rx="8.0" ry="22.0" fill="rgb(0,0,0)"/></g><g filter="url(#b15)"><path d="M984.0 1290.0 C914.3 1258.3 982.0 1147.0 982.0 1100.0 C982.0 1053.0 981.0 1027.2 984.0 1008.0 C987.0 988.8 989.0 989.0 1000.0 985.0 C1011.0 981.0 1035.2 980.5 1050.0 984.0 C1064.8 987.5 1070.2 992.0 1089.0 1006.0 C1107.8 1020.0 1138.5 1048.7 1163.0 1068.0 C1187.5 1087.3 1211.5 1103.7 1236.0 1122.0 C1260.5 1140.3 1282.7 1158.3 1310.0 1178.0 C1337.3 1197.7 1385.0 1221.3 1400.0 1240.0 C1415.0 1258.7 1469.3 1281.7 1400.0 1290.0 C1330.7 1298.3 1053.7 1321.7 984.0 1290.0Z" fill="rgb(0,0,0)"/></g><g filter="url(#b4)"><polygon points="992.0,1005.0 995.0,945.0 1001.0,945.0 1004.0,1005.0" fill="rgb(13,13,13)" opacity="0.70"/><polygon points="1004.0,995.0 1007.0,935.0 1013.0,935.0 1016.0,995.0" fill="rgb(13,13,13)" opacity="0.70"/><polygon points="1024.0,1010.0 1027.0,950.0 1033.0,950.0 1036.0,1010.0" fill="rgb(13,13,13)" opacity="0.70"/><polygon points="1039.0,1005.0 1042.0,945.0 1048.0,945.0 1051.0,1005.0" fill="rgb(13,13,13)" opacity="0.70"/><polygon points="1064.0,1025.0 1067.0,965.0 1073.0,965.0 1076.0,1025.0" fill="rgb(13,13,13)" opacity="0.70"/><polygon points="1094.0,1045.0 1097.0,985.0 1103.0,985.0 1106.0,1045.0" fill="rgb(13,13,13)" opacity="0.70"/><polygon points="1124.0,1065.0 1127.0,1005.0 1133.0,1005.0 1136.0,1065.0" fill="rgb(13,13,13)" opacity="0.70"/></g><g filter="url(#b12)"><polygon points="910.0,860.0 975.0,860.0 975.0,1290.0 910.0,1290.0" fill="rgb(61,61,61)"/></g><g filter="url(#b5)"><polygon points="910.0,800.0 946.0,800.0 948.0,1000.0 946.0,1150.0 940.0,1290.0 910.0,1290.0" fill="rgb(128,128,128)"/></g><g filter="url(#b4)"><polygon points="910.0,760.0 940.0,760.0 939.0,900.0 938.0,1000.0 932.0,1060.0 910.0,1060.0" fill="rgb(194,194,194)"/></g><g filter="url(#b6)"><polygon points="915.0,1222.0 975.0,1225.0 1000.0,1240.0 1160.0,1252.0 1160.0,1290.0 915.0,1290.0" fill="rgb(64,64,64)"/><polygon points="915.0,1235.0 985.0,1240.0 1010.0,1252.0 1010.0,1290.0 915.0,1290.0" fill="rgb(122,122,122)"/></g><g filter="url(#b4)"><ellipse cx="936.0" cy="1258.0" rx="15.0" ry="14.0" fill="rgb(204,204,204)"/></g><g filter="url(#b2_5)"><polygon points="983.0,1264.0 990.0,1232.0 997.0,1264.0" fill="rgb(87,87,87)"/><polygon points="1003.0,1264.0 1010.0,1226.0 1017.0,1264.0" fill="rgb(87,87,87)"/><polygon points="1018.0,1264.0 1025.0,1216.0 1032.0,1264.0" fill="rgb(87,87,87)"/><polygon points="1031.0,1264.0 1038.0,1224.0 1045.0,1264.0" fill="rgb(87,87,87)"/><polygon points="1048.0,1264.0 1055.0,1234.0 1062.0,1264.0" fill="rgb(87,87,87)"/><polygon points="1068.0,1264.0 1075.0,1228.0 1082.0,1264.0" fill="rgb(87,87,87)"/><polygon points="1085.0,1264.0 1092.0,1238.0 1099.0,1264.0" fill="rgb(87,87,87)"/><polygon points="1103.0,1264.0 1110.0,1244.0 1117.0,1264.0" fill="rgb(87,87,87)"/><polygon points="1123.0,1264.0 1130.0,1234.0 1137.0,1264.0" fill="rgb(87,87,87)"/><polygon points="1143.0,1264.0 1150.0,1244.0 1157.0,1264.0" fill="rgb(87,87,87)"/></g></g></g>
<g clip-path="url(#clipd)"><g filter="url(#cmap)"><rect x="1399.4" y="22.3" width="460.0" height="1249.4" fill="#000"/><polygon points="1395.0,15.0 1870.0,15.0 1870.0,1280.0 1395.0,1280.0" fill="rgb(55,55,55)"/><g filter="url(#b28)"><path d="M1740.0 620.0 C1748.3 588.3 1766.7 585.0 1790.0 570.0 C1813.3 555.0 1865.0 458.3 1880.0 530.0 C1895.0 601.7 1890.0 928.3 1880.0 1000.0 C1870.0 1071.7 1838.3 980.0 1820.0 960.0 C1801.7 940.0 1783.3 913.3 1770.0 880.0 C1756.7 846.7 1745.0 803.3 1740.0 760.0 C1735.0 716.7 1731.7 651.7 1740.0 620.0Z" fill="rgb(26,26,26)" opacity="0.80"/></g><g filter="url(#b24)"><polygon points="1465.0,1075.0 1600.0,1050.0 1880.0,1000.0 1880.0,1300.0 1465.0,1300.0" fill="rgb(33,33,33)" opacity="0.90"/></g><g filter="url(#b13)"><ellipse cx="1617.0" cy="1224.0" rx="30.0" ry="16.0" fill="rgb(8,8,8)" opacity="0.60"/><ellipse cx="1722.0" cy="1232.0" rx="36.0" ry="16.0" fill="rgb(10,10,10)" opacity="0.60"/></g><g filter="url(#b14)"><ellipse cx="1830.0" cy="1215.0" rx="40.0" ry="30.0" fill="rgb(13,13,13)" opacity="0.70"/></g><g filter="url(#b24)"><path d="M1400.0 690.0 C1411.7 647.5 1443.3 725.0 1470.0 720.0 C1496.7 715.0 1521.7 690.0 1560.0 660.0 C1598.3 630.0 1646.7 586.7 1700.0 540.0 C1753.3 493.3 1850.0 391.7 1880.0 380.0 C1910.0 368.3 1898.3 440.0 1880.0 470.0 C1861.7 500.0 1795.0 531.7 1770.0 560.0 C1745.0 588.3 1738.0 608.3 1730.0 640.0 C1722.0 671.7 1728.7 715.0 1722.0 750.0 C1715.3 785.0 1710.3 820.0 1690.0 850.0 C1669.7 880.0 1635.0 909.2 1600.0 930.0 C1565.0 950.8 1513.3 967.5 1480.0 975.0 C1446.7 982.5 1413.3 1022.5 1400.0 975.0 C1386.7 927.5 1388.3 732.5 1400.0 690.0Z" fill="rgb(133,133,133)"/></g><g filter="url(#b15)"><path d="M1400.0 680.0 C1408.3 660.0 1430.0 695.0 1450.0 700.0 C1470.0 705.0 1495.0 718.3 1520.0 710.0 C1545.0 701.7 1588.3 646.7 1600.0 650.0 C1611.7 653.3 1605.0 704.2 1590.0 730.0 C1575.0 755.8 1535.0 788.3 1510.0 805.0 C1485.0 821.7 1458.3 827.5 1440.0 830.0 C1421.7 832.5 1406.7 845.0 1400.0 820.0 C1393.3 795.0 1391.7 700.0 1400.0 680.0Z" fill="rgb(178,178,178)"/></g><g filter="url(#b8)"><polygon points="1890.0,225.0 1764.0,340.0 1558.0,568.0 1520.0,605.0 1480.0,700.0 1440.0,775.0 1540.0,690.0 1700.0,560.0 1890.0,400.0" fill="rgb(128,128,128)"/></g><g filter="url(#b14)"><path d="M1440.0 753.8 C1442.7 752.4 1450.1 749.0 1456.0 745.5 C1461.9 742.0 1466.1 740.0 1475.4 733.0 C1484.7 726.0 1499.6 713.6 1512.0 703.6 C1524.4 693.6 1536.9 683.4 1550.0 673.0 C1563.1 662.6 1573.8 654.9 1590.5 641.5 C1607.2 628.1 1623.4 614.4 1650.0 592.6 C1676.6 570.8 1715.0 539.3 1750.0 510.6 C1785.0 481.9 1841.7 435.4 1860.0 420.4" fill="none" stroke="rgb(128,128,128)" stroke-width="70.0" stroke-linecap="butt" stroke-linejoin="round"/></g><g filter="url(#b9)"><path d="M1440.0 753.8 C1442.7 752.4 1450.1 749.0 1456.0 745.5 C1461.9 742.0 1466.1 740.0 1475.4 733.0 C1484.7 726.0 1499.6 713.6 1512.0 703.6 C1524.4 693.6 1536.9 683.4 1550.0 673.0 C1563.1 662.6 1573.8 654.9 1590.5 641.5 C1607.2 628.1 1640.1 600.8 1650.0 592.6" fill="none" stroke="rgb(168,168,168)" stroke-width="30.0" stroke-linecap="butt" stroke-linejoin="round"/></g><g filter="url(#b7)"><polygon points="1395.0,15.0 1822.0,15.0 1662.0,365.0 1552.0,555.0 1524.0,610.0 1480.0,700.0 1440.0,765.0 1395.0,790.0" fill="rgb(140,140,140)"/></g><g filter="url(#b12)"><polygon points="1612.0,15.0 1700.0,15.0 1650.0,200.0 1600.0,330.0 1590.0,200.0" fill="rgb(112,112,112)"/></g><g filter="url(#b10)"><polygon points="1730.0,15.0 1830.0,15.0 1700.0,290.0 1670.0,270.0" fill="rgb(107,107,107)"/></g><g filter="url(#b13)"><polygon points="1395.0,15.0 1500.0,15.0 1502.0,250.0 1528.0,400.0 1512.0,500.0 1478.0,600.0 1452.0,700.0 1395.0,745.0" fill="rgb(191,191,191)"/></g><g filter="url(#b7)"><path d="M1717.0 28.0 C1693.7 80.0 1606.7 273.7 1577.0 340.0 C1547.3 406.3 1549.0 401.2 1539.0 425.7 C1529.0 450.2 1523.5 470.6 1517.0 486.9 C1510.5 503.2 1506.7 510.6 1500.0 523.6 C1493.3 536.7 1480.6 558.3 1476.7 565.2" fill="none" stroke="rgb(158,158,158)" stroke-width="26.0" stroke-linecap="butt" stroke-linejoin="round"/></g><g filter="url(#b6)"><path d="M1602.2 28.0 L1562.3 185.3" fill="none" stroke="rgb(153,153,153)" stroke-width="20.0" stroke-linecap="butt" stroke-linejoin="round"/></g><g filter="url(#b3)"><path d="M1440.0 753.8 C1442.7 752.4 1450.1 749.0 1456.0 745.5 C1461.9 742.0 1466.1 740.0 1475.4 733.0 C1484.7 726.0 1499.6 713.6 1512.0 703.6 C1524.4 693.6 1536.9 683.4 1550.0 673.0 C1563.1 662.6 1573.8 654.9 1590.5 641.5 C1607.2 628.1 1623.4 614.4 1650.0 592.6 C1676.6 570.8 1715.0 539.3 1750.0 510.6 C1785.0 481.9 1841.7 435.4 1860.0 420.4" fill="none" stroke="rgb(255,255,255)" stroke-width="9.0" stroke-linecap="butt" stroke-linejoin="round"/></g><g filter="url(#b10)"><polygon points="1424.0,690.0 1466.0,690.0 1470.0,760.0 1462.0,830.0 1442.0,862.0 1424.0,850.0" fill="rgb(189,189,189)"/></g><g filter="url(#b6)"><polygon points="1580.0,525.0 1562.0,572.0 1520.0,603.0 1528.0,560.0 1552.0,512.0" fill="rgb(56,56,56)"/></g><g filter="url(#b10)"><path d="M1815.0 10.0 C1788.8 65.0 1702.5 249.2 1658.0 340.0 C1613.5 430.8 1566.3 519.2 1548.0 555.0" fill="none" stroke="rgb(76,76,76)" stroke-width="44.0" stroke-linecap="butt" stroke-linejoin="round"/></g><g filter="url(#b9)"><polygon points="1803.5,10.0 1880.0,10.0 1880.0,232.0 1847.0,270.0 1764.0,340.0 1558.7,567.7 1549.0,574.0 1541.0,568.0 1539.0,555.4 1646.8,340.0" fill="rgb(0,0,0)"/></g><g filter="url(#b20)"><path d="M1890.0 560.0 C1880.8 528.3 1849.2 603.3 1835.0 625.0 C1820.8 646.7 1810.8 669.2 1805.0 690.0 C1799.2 710.8 1795.8 731.7 1800.0 750.0 C1804.2 768.3 1815.0 789.2 1830.0 800.0 C1845.0 810.8 1880.0 855.0 1890.0 815.0 C1900.0 775.0 1899.2 591.7 1890.0 560.0Z" fill="rgb(0,0,0)"/></g><g filter="url(#b14)"><ellipse cx="1850.0" cy="690.0" rx="35.0" ry="25.0" fill="rgb(0,0,0)" opacity="0.80"/></g><g filter="url(#b3)"><polygon points="1395.0,15.0 1424.0,15.0 1424.0,760.0 1395.0,760.0" fill="rgb(158,158,158)"/></g><g filter="url(#b4)"><path d="M1420.5,60 Q1420.5,40 1441,40 Q1463,40 1463,60 L1463,500 L1454,640 L1448,690 Q1438,716 1429,690 L1424,640 L1420.5,500 Z" fill="#fff"/></g><g filter="url(#b2_5)"><polygon points="1395.0,760.0 1416.0,760.0 1416.0,1240.0 1395.0,1240.0" fill="rgb(26,26,26)" opacity="0.90"/></g><g filter="url(#b11)"><polygon points="1422.0,880.0 1462.0,880.0 1464.0,1000.0 1460.0,1200.0 1422.0,1230.0" fill="rgb(107,107,107)"/></g><g filter="url(#b8)"><ellipse cx="1490.0" cy="1268.0" rx="90.0" ry="16.0" fill="rgb(76,76,76)"/><ellipse cx="1438.0" cy="1264.0" rx="30.0" ry="22.0" fill="rgb(115,115,115)"/></g><g filter="url(#b5)"><ellipse cx="1433.0" cy="1266.0" rx="16.0" ry="12.0" fill="rgb(168,168,168)"/></g></g></g>
<g clip-path="url(#clipa)"><path d="M264.5 28.0 L241.5 214.0" fill="none" stroke="#fff" stroke-width="8.0" stroke-linecap="butt" stroke-linejoin="round"/><path d="M287.0 28.0 L243.0 304.5" fill="none" stroke="#fff" stroke-width="8.0" stroke-linecap="butt" stroke-linejoin="round"/><path d="M311.5 28.0 L235.0 446.0" fill="none" stroke="#fff" stroke-width="8.0" stroke-linecap="butt" stroke-linejoin="round"/><path d="M368.2 28.0 C364.9 41.7 355.2 83.0 348.6 110.0 C342.1 137.0 336.1 161.7 329.0 190.0 C321.9 218.3 313.7 250.7 306.2 280.0 C298.7 309.3 291.4 337.3 283.8 366.0 C276.2 394.7 268.9 421.7 260.6 452.0 C252.3 482.3 238.5 532.0 234.0 548.0" fill="none" stroke="#fff" stroke-width="8.0" stroke-linecap="butt" stroke-linejoin="round"/><path d="M194.5 855.0 L207.8 1252.0" fill="none" stroke="#fff" stroke-width="7.5" stroke-linecap="butt" stroke-linejoin="round"/><path d="M188.6 957.0 L191.5 1249.0" fill="none" stroke="#fff" stroke-width="7.5" stroke-linecap="butt" stroke-linejoin="round"/></g><g clip-path="url(#clipax)"><path d="M176.0 596.7 L400.0 868.4" fill="none" stroke="#0a9cee" stroke-width="7.0" stroke-dasharray="20 17" stroke-dashoffset="17.0"/><path d="M176.0 833.4 L400.0 617.3" fill="none" stroke="#0a9cee" stroke-width="7.0" stroke-dasharray="20 16.7" stroke-dashoffset="19.2"/></g>
<g clip-path="url(#clipb)"><path d="M577.5 28.0 L522.0 336.0" fill="none" stroke="#fff" stroke-width="6.0" stroke-linecap="butt" stroke-linejoin="round"/><path d="M638.5 28.0 L515.8 469.7" fill="none" stroke="#fff" stroke-width="6.0" stroke-linecap="butt" stroke-linejoin="round"/><path d="M749.0 28.0 C723.7 82.0 642.3 249.0 597.0 352.0 C551.7 455.0 497.0 597.0 477.0 646.0" fill="none" stroke="#fff" stroke-width="6.0" stroke-linecap="butt" stroke-linejoin="round"/><path d="M560.0 737.0 C563.0 733.5 569.5 726.2 578.0 716.0 C586.5 705.8 599.0 690.3 611.0 676.0 C623.0 661.7 635.2 644.8 650.0 630.0 C664.8 615.2 685.0 599.5 700.0 587.0 C715.0 574.5 723.0 568.4 740.0 555.2 C757.0 542.0 777.0 527.0 802.0 508.0 C827.0 489.0 875.3 452.2 890.0 441.0" fill="none" stroke="#fff" stroke-width="6.8" stroke-linecap="butt" stroke-linejoin="round"/><path d="M586.8 772.2 C592.5 777.9 609.6 795.1 621.0 806.5 C632.4 817.9 643.9 830.5 655.3 840.7 C666.7 850.9 677.4 859.5 689.6 867.7 C701.9 875.9 716.1 882.4 728.8 889.7 C741.4 897.0 753.3 904.6 765.5 911.7 C777.7 918.8 790.0 925.8 802.2 932.5 C814.4 939.2 829.5 947.1 838.9 952.1 C848.3 957.1 853.6 960.4 858.5 962.5 C863.4 964.6 864.8 964.3 868.0 964.5 C871.2 964.7 876.3 963.7 878.0 963.5" fill="none" stroke="#fff" stroke-width="6.8" stroke-linecap="butt" stroke-linejoin="round"/><path d="M453.6 878.0 C454.0 888.3 452.7 876.0 456.0 940.0 C459.3 1004.0 470.3 1208.3 473.2 1262.0" fill="none" stroke="#fff" stroke-width="6.0" stroke-linecap="butt" stroke-linejoin="round"/></g>
<g clip-path="url(#clipbx)">
<path d="M451.0 774.6 L884.5 444.7" fill="none" stroke="#0a9cee" stroke-width="6.8" stroke-dasharray="19.5 17" stroke-dashoffset="33.8"/>
<path d="M451.0 731.8 L890.0 981.6" fill="none" stroke="#0a9cee" stroke-width="6.8" stroke-dasharray="19.5 17.3" stroke-dashoffset="0.0"/>
</g>
<g clip-path="url(#clipc)"><path d="M1062.8 28.0 L1030.6 200.0" fill="none" stroke="#fff" stroke-width="6.0" stroke-linecap="butt" stroke-linejoin="round"/><path d="M1121.0 28.0 L1030.6 362.0" fill="none" stroke="#fff" stroke-width="6.0" stroke-linecap="butt" stroke-linejoin="round"/><path d="M1233.0 28.0 C1209.1 80.0 1131.1 244.3 1089.4 340.0 C1047.7 435.7 1000.6 558.3 982.9 602.0" fill="none" stroke="#fff" stroke-width="6.0" stroke-linecap="butt" stroke-linejoin="round"/><path d="M970.6 760.0 C973.0 759.2 979.5 757.5 985.0 755.0 C990.5 752.5 994.5 751.5 1003.7 745.0 C1012.9 738.5 1028.2 726.6 1040.4 716.0 C1052.6 705.4 1064.3 694.3 1077.0 681.6 C1089.7 668.9 1102.5 653.4 1116.3 640.0 C1130.1 626.6 1142.7 616.4 1160.0 601.5 C1177.3 586.6 1196.7 570.2 1220.0 550.4 C1243.3 530.5 1274.2 504.3 1300.0 482.3 C1325.8 460.3 1362.5 429.1 1375.0 418.5" fill="none" stroke="#fff" stroke-width="6.5" stroke-linecap="butt" stroke-linejoin="round"/><path d="M980.4 828.5 C983.7 828.7 994.1 828.7 1000.0 829.5 C1005.9 830.3 1007.2 829.9 1016.0 833.4 C1024.8 836.9 1036.3 841.1 1052.6 850.5 C1068.9 859.9 1091.3 875.4 1113.8 889.7 C1136.2 904.0 1164.6 922.1 1187.3 936.2 C1210.0 950.3 1231.2 963.0 1250.0 974.1 C1268.8 985.2 1279.2 990.8 1300.0 1002.8 C1320.8 1014.8 1362.5 1038.8 1375.0 1046.0" fill="none" stroke="#fff" stroke-width="6.8" stroke-linecap="butt" stroke-linejoin="round"/></g>
<g clip-path="url(#clipcx)">
<path d="M943.7 785.0 L1375.0 418.0" fill="none" stroke="#0a9cee" stroke-width="6.8" stroke-dasharray="19.5 17.6" stroke-dashoffset="33.4"/>
<path d="M929.0 790.5 L1375.0 1047.0" fill="none" stroke="#0a9cee" stroke-width="6.8" stroke-dasharray="19.5 17.5" stroke-dashoffset="0.0"/>
</g>
<g clip-path="url(#clipd)"><path d="M1602.2 28.0 L1562.3 185.3" fill="none" stroke="#fff" stroke-width="6.0" stroke-linecap="butt" stroke-linejoin="round"/><path d="M1717.0 28.0 C1693.7 80.0 1606.7 273.7 1577.0 340.0 C1547.3 406.3 1549.0 401.2 1539.0 425.7 C1529.0 450.2 1523.5 470.6 1517.0 486.9 C1510.5 503.2 1506.7 510.6 1500.0 523.6 C1493.3 536.7 1480.6 558.3 1476.7 565.2" fill="none" stroke="#fff" stroke-width="6.0" stroke-linecap="butt" stroke-linejoin="round"/><path d="M1440.0 753.8 C1442.7 752.4 1450.1 749.0 1456.0 745.5 C1461.9 742.0 1466.1 740.0 1475.4 733.0 C1484.7 726.0 1499.6 713.6 1512.0 703.6 C1524.4 693.6 1536.9 683.4 1550.0 673.0 C1563.1 662.6 1573.8 654.9 1590.5 641.5 C1607.2 628.1 1623.4 614.4 1650.0 592.6 C1676.6 570.8 1715.0 539.3 1750.0 510.6 C1785.0 481.9 1841.7 435.4 1860.0 420.4" fill="none" stroke="#fff" stroke-width="6.8" stroke-linecap="butt" stroke-linejoin="round"/><path d="M1470.5 942.3 C1471.4 943.2 1474.0 946.3 1476.0 947.5 C1478.0 948.7 1480.1 949.6 1482.8 949.7 C1485.5 949.8 1489.1 948.6 1492.0 948.0 C1494.9 947.4 1496.7 945.9 1500.0 946.0 C1503.3 946.1 1507.9 947.3 1512.0 948.5 C1516.1 949.7 1514.2 950.0 1524.4 953.3 C1534.6 956.5 1559.1 963.5 1573.4 968.0 C1587.7 972.5 1588.9 970.5 1610.0 980.0 C1631.1 989.5 1671.7 1010.9 1700.0 1025.2 C1728.3 1039.5 1753.3 1052.5 1780.0 1066.0 C1806.7 1079.5 1846.7 1099.3 1860.0 1106.0" fill="none" stroke="#fff" stroke-width="7.0" stroke-linecap="round" stroke-linejoin="round"/></g>
<g clip-path="url(#clipdx)">
<path d="M1415.5 784.4 L1860.0 419.9" fill="none" stroke="#0a9cee" stroke-width="6.8" stroke-dasharray="19.5 17.4" stroke-dashoffset="15.3"/>
<path d="M1426.5 903.2 L1860.0 1108.2" fill="none" stroke="#0a9cee" stroke-width="6.8" stroke-dasharray="19.5 17.1" stroke-dashoffset="0.0"/>
</g>
<path d="M212.2 32.3 v10.5 M212.2 1261.7 v-10.6 M248.8 32.3 v20.7 M248.8 1261.7 v-18.3 M285.5 32.3 v10.5 M285.5 1261.7 v-10.6 M322.2 32.3 v20.7 M322.2 1261.7 v-18.3 M358.9 32.3 v10.5 M358.9 1261.7 v-10.6 M175.5 134.8 h10.7 M395.5 134.8 h-8.1 M175.5 237.2 h21.5 M395.5 237.2 h-18.9 M175.5 339.7 h10.7 M395.5 339.7 h-8.1 M175.5 442.1 h21.5 M395.5 442.1 h-18.9 M175.5 544.5 h10.7 M395.5 544.5 h-8.1 M175.5 647.0 h21.5 M395.5 647.0 h-18.9 M175.5 749.4 h10.7 M395.5 749.4 h-8.1 M175.5 851.9 h21.5 M395.5 851.9 h-18.9 M175.5 954.4 h10.7 M395.5 954.4 h-8.1 M175.5 1056.8 h21.5 M395.5 1056.8 h-18.9 M175.5 1159.2 h10.7 M395.5 1159.2 h-8.1" stroke="#000" stroke-width="5.4" fill="none"/>
<rect x="175.5" y="32.3" width="220.0" height="1229.4" fill="none" stroke="#000" stroke-width="5.4"/>
<text x="175.5" y="1313.3" font-size="42.5" font-weight="bold" text-anchor="middle" font-family="Liberation Sans, sans-serif">0</text>
<text x="248.8" y="1313.3" font-size="42.5" font-weight="bold" text-anchor="middle" font-family="Liberation Sans, sans-serif">1</text>
<text x="322.2" y="1313.3" font-size="42.5" font-weight="bold" text-anchor="middle" font-family="Liberation Sans, sans-serif">2</text>
<text x="395.5" y="1313.3" font-size="42.5" font-weight="bold" text-anchor="middle" font-family="Liberation Sans, sans-serif">3</text>
<text x="285.5" y="1365" font-size="53" font-weight="bold" text-anchor="middle" textLength="108" lengthAdjust="spacingAndGlyphs" font-family="Liberation Sans, sans-serif">B (T)</text>
<path d="M479.0 32.3 v10.5 M479.0 1261.7 v-10.6 M515.6 32.3 v20.7 M515.6 1261.7 v-18.3 M552.3 32.3 v10.5 M552.3 1261.7 v-10.6 M589.0 32.3 v20.7 M589.0 1261.7 v-18.3 M625.7 32.3 v10.5 M625.7 1261.7 v-10.6 M662.4 32.3 v20.7 M662.4 1261.7 v-18.3 M699.0 32.3 v10.5 M699.0 1261.7 v-10.6 M735.7 32.3 v20.7 M735.7 1261.7 v-18.3 M772.4 32.3 v10.5 M772.4 1261.7 v-10.6 M809.0 32.3 v20.7 M809.0 1261.7 v-18.3 M845.7 32.3 v10.5 M845.7 1261.7 v-10.6 M442.3 134.8 h10.7 M882.3 134.8 h-8.1 M442.3 237.2 h21.5 M882.3 237.2 h-18.9 M442.3 339.7 h10.7 M882.3 339.7 h-8.1 M442.3 442.1 h21.5 M882.3 442.1 h-18.9 M442.3 544.5 h10.7 M882.3 544.5 h-8.1 M442.3 647.0 h21.5 M882.3 647.0 h-18.9 M442.3 749.4 h10.7 M882.3 749.4 h-8.1 M442.3 851.9 h21.5 M882.3 851.9 h-18.9 M442.3 954.4 h10.7 M882.3 954.4 h-8.1 M442.3 1056.8 h21.5 M882.3 1056.8 h-18.9 M442.3 1159.2 h10.7 M882.3 1159.2 h-8.1" stroke="#000" stroke-width="5.4" fill="none"/>
<rect x="442.3" y="32.3" width="440.0" height="1229.4" fill="none" stroke="#000" stroke-width="5.4"/>
<text x="442.3" y="1313.3" font-size="42.5" font-weight="bold" text-anchor="middle" font-family="Liberation Sans, sans-serif">0</text>
<text x="515.6" y="1313.3" font-size="42.5" font-weight="bold" text-anchor="middle" font-family="Liberation Sans, sans-serif">1</text>
<text x="589.0" y="1313.3" font-size="42.5" font-weight="bold" text-anchor="middle" font-family="Liberation Sans, sans-serif">2</text>
<text x="662.4" y="1313.3" font-size="42.5" font-weight="bold" text-anchor="middle" font-family="Liberation Sans, sans-serif">3</text>
<text x="735.7" y="1313.3" font-size="42.5" font-weight="bold" text-anchor="middle" font-family="Liberation Sans, sans-serif">4</text>
<text x="809.0" y="1313.3" font-size="42.5" font-weight="bold" text-anchor="middle" font-family="Liberation Sans, sans-serif">5</text>
<text x="882.4" y="1313.3" font-size="42.5" font-weight="bold" text-anchor="middle" font-family="Liberation Sans, sans-serif">6</text>
<text x="662.3" y="1365" font-size="53" font-weight="bold" text-anchor="middle" textLength="108" lengthAdjust="spacingAndGlyphs" font-family="Liberation Sans, sans-serif">B (T)</text>
<path d="M962.3 32.3 v10.5 M962.3 1261.7 v-10.6 M999.0 32.3 v20.7 M999.0 1261.7 v-18.3 M1035.6 32.3 v10.5 M1035.6 1261.7 v-10.6 M1072.3 32.3 v20.7 M1072.3 1261.7 v-18.3 M1109.0 32.3 v10.5 M1109.0 1261.7 v-10.6 M1145.7 32.3 v20.7 M1145.7 1261.7 v-18.3 M1182.3 32.3 v10.5 M1182.3 1261.7 v-10.6 M1219.0 32.3 v20.7 M1219.0 1261.7 v-18.3 M1255.7 32.3 v10.5 M1255.7 1261.7 v-10.6 M1292.3 32.3 v20.7 M1292.3 1261.7 v-18.3 M1329.0 32.3 v10.5 M1329.0 1261.7 v-10.6 M925.6 134.8 h10.7 M1365.6 134.8 h-8.1 M925.6 237.2 h21.5 M1365.6 237.2 h-18.9 M925.6 339.7 h10.7 M1365.6 339.7 h-8.1 M925.6 442.1 h21.5 M1365.6 442.1 h-18.9 M925.6 544.5 h10.7 M1365.6 544.5 h-8.1 M925.6 647.0 h21.5 M1365.6 647.0 h-18.9 M925.6 749.4 h10.7 M1365.6 749.4 h-8.1 M925.6 851.9 h21.5 M1365.6 851.9 h-18.9 M925.6 954.4 h10.7 M1365.6 954.4 h-8.1 M925.6 1056.8 h21.5 M1365.6 1056.8 h-18.9 M925.6 1159.2 h10.7 M1365.6 1159.2 h-8.1" stroke="#000" stroke-width="5.4" fill="none"/>
<rect x="925.6" y="32.3" width="440.0" height="1229.4" fill="none" stroke="#000" stroke-width="5.4"/>
<text x="925.6" y="1313.3" font-size="42.5" font-weight="bold" text-anchor="middle" font-family="Liberation Sans, sans-serif">0</text>
<text x="999.0" y="1313.3" font-size="42.5" font-weight="bold" text-anchor="middle" font-family="Liberation Sans, sans-serif">1</text>
<text x="1072.3" y="1313.3" font-size="42.5" font-weight="bold" text-anchor="middle" font-family="Liberation Sans, sans-serif">2</text>
<text x="1145.7" y="1313.3" font-size="42.5" font-weight="bold" text-anchor="middle" font-family="Liberation Sans, sans-serif">3</text>
<text x="1219.0" y="1313.3" font-size="42.5" font-weight="bold" text-anchor="middle" font-family="Liberation Sans, sans-serif">4</text>
<text x="1292.3" y="1313.3" font-size="42.5" font-weight="bold" text-anchor="middle" font-family="Liberation Sans, sans-serif">5</text>
<text x="1365.7" y="1313.3" font-size="42.5" font-weight="bold" text-anchor="middle" font-family="Liberation Sans, sans-serif">6</text>
<text x="1145.6" y="1365" font-size="53" font-weight="bold" text-anchor="middle" textLength="108" lengthAdjust="spacingAndGlyphs" font-family="Liberation Sans, sans-serif">B (T)</text>
<path d="M1446.1 32.3 v10.5 M1446.1 1261.7 v-10.6 M1482.8 32.3 v20.7 M1482.8 1261.7 v-18.3 M1519.4 32.3 v10.5 M1519.4 1261.7 v-10.6 M1556.1 32.3 v20.7 M1556.1 1261.7 v-18.3 M1592.8 32.3 v10.5 M1592.8 1261.7 v-10.6 M1629.5 32.3 v20.7 M1629.5 1261.7 v-18.3 M1666.1 32.3 v10.5 M1666.1 1261.7 v-10.6 M1702.8 32.3 v20.7 M1702.8 1261.7 v-18.3 M1739.5 32.3 v10.5 M1739.5 1261.7 v-10.6 M1776.2 32.3 v20.7 M1776.2 1261.7 v-18.3 M1812.8 32.3 v10.5 M1812.8 1261.7 v-10.6 M1409.4 134.8 h10.7 M1849.4 134.8 h-8.1 M1409.4 237.2 h21.5 M1849.4 237.2 h-18.9 M1409.4 339.7 h10.7 M1849.4 339.7 h-8.1 M1409.4 442.1 h21.5 M1849.4 442.1 h-18.9 M1409.4 544.5 h10.7 M1849.4 544.5 h-8.1 M1409.4 647.0 h21.5 M1849.4 647.0 h-18.9 M1409.4 749.4 h10.7 M1849.4 749.4 h-8.1 M1409.4 851.9 h21.5 M1849.4 851.9 h-18.9 M1409.4 954.4 h10.7 M1849.4 954.4 h-8.1 M1409.4 1056.8 h21.5 M1849.4 1056.8 h-18.9 M1409.4 1159.2 h10.7 M1849.4 1159.2 h-8.1" stroke="#000" stroke-width="5.4" fill="none"/>
<rect x="1409.4" y="32.3" width="440.0" height="1229.4" fill="none" stroke="#000" stroke-width="5.4"/>
<text x="1409.4" y="1313.3" font-size="42.5" font-weight="bold" text-anchor="middle" font-family="Liberation Sans, sans-serif">0</text>
<text x="1482.8" y="1313.3" font-size="42.5" font-weight="bold" text-anchor="middle" font-family="Liberation Sans, sans-serif">1</text>
<text x="1556.1" y="1313.3" font-size="42.5" font-weight="bold" text-anchor="middle" font-family="Liberation Sans, sans-serif">2</text>
<text x="1629.5" y="1313.3" font-size="42.5" font-weight="bold" text-anchor="middle" font-family="Liberation Sans, sans-serif">3</text>
<text x="1702.8" y="1313.3" font-size="42.5" font-weight="bold" text-anchor="middle" font-family="Liberation Sans, sans-serif">4</text>
<text x="1776.2" y="1313.3" font-size="42.5" font-weight="bold" text-anchor="middle" font-family="Liberation Sans, sans-serif">5</text>
<text x="1849.5" y="1313.3" font-size="42.5" font-weight="bold" text-anchor="middle" font-family="Liberation Sans, sans-serif">6</text>
<text x="1629.4" y="1365" font-size="53" font-weight="bold" text-anchor="middle" textLength="108" lengthAdjust="spacingAndGlyphs" font-family="Liberation Sans, sans-serif">B (T)</text>
<text x="161.5" y="42.8" font-size="42" font-weight="bold" text-anchor="end" font-family="Liberation Sans, sans-serif">0.0</text>
<text x="161.5" y="247.7" font-size="42" font-weight="bold" text-anchor="end" font-family="Liberation Sans, sans-serif">-0.5</text>
<text x="161.5" y="452.6" font-size="42" font-weight="bold" text-anchor="end" font-family="Liberation Sans, sans-serif">-1.0</text>
<text x="161.5" y="657.5" font-size="42" font-weight="bold" text-anchor="end" font-family="Liberation Sans, sans-serif">-1.5</text>
<text x="161.5" y="862.4" font-size="42" font-weight="bold" text-anchor="end" font-family="Liberation Sans, sans-serif">-2.0</text>
<text x="161.5" y="1067.3" font-size="42" font-weight="bold" text-anchor="end" font-family="Liberation Sans, sans-serif">-2.5</text>
<text x="161.5" y="1272.2" font-size="42" font-weight="bold" text-anchor="end" font-family="Liberation Sans, sans-serif">-3.0</text>
<text transform="translate(59.5 647) rotate(-90)" font-size="53" font-weight="bold" text-anchor="middle" font-family="Liberation Sans, sans-serif">V<tspan font-size="36" dy="12">g</tspan><tspan dy="-12"> (V)</tspan></text>
<clipPath id="clipax"><rect x="172.8" y="29.6" width="225.4" height="1234.8"/></clipPath>
<text x="344.7" y="503.5" font-size="54" font-weight="bold" fill="#fff" text-anchor="middle" font-family="Liberation Sans, sans-serif" textLength="64" lengthAdjust="spacingAndGlyphs">(a)</text>
<text x="293.3" y="908.7" font-size="49.5" font-weight="bold" fill="#fff" text-anchor="middle" font-family="Liberation Sans, sans-serif" textLength="120" lengthAdjust="spacingAndGlyphs">1.7 K</text>
<rect x="236.2" y="999.8" width="131" height="43.4" fill="url(#cbar)" stroke="#fff" stroke-width="2.6"/>
<path d="M288.3 1022V1043M340.5 1022V1043" stroke="#fff" stroke-width="2" fill="none"/>
<text x="236.9" y="1071.7" font-size="26" fill="#f3e6e6" text-anchor="middle" font-family="Liberation Sans, sans-serif">0</text>
<text x="289.6" y="1071.7" font-size="26" fill="#f3e6e6" text-anchor="middle" font-family="Liberation Sans, sans-serif">1</text>
<text x="340.1" y="1071.7" font-size="26" fill="#f3e6e6" text-anchor="middle" font-family="Liberation Sans, sans-serif">2</text>
<text x="216.4" y="1103.5" font-size="24" font-style="italic" fill="#f3e6e6" textLength="174.4" lengthAdjust="spacingAndGlyphs" font-family="Liberation Sans, sans-serif">dσ<tspan font-size="14" dy="6">xy</tspan><tspan dy="-6">/dV</tspan><tspan font-size="14" dy="6">g</tspan><tspan dy="-6"> [e</tspan><tspan font-size="14" dy="-9">2</tspan><tspan dy="9">/h/V]</tspan></text>
<clipPath id="clipbx"><rect x="439.6" y="29.6" width="450" height="1234.8"/></clipPath>
<text x="814.2" y="213.6" font-size="54" font-weight="bold" fill="#fff" text-anchor="middle" font-family="Liberation Sans, sans-serif" textLength="64" lengthAdjust="spacingAndGlyphs">(b)</text>
<text x="671.8" y="1153.0" font-size="50.5" font-weight="bold" fill="#fff" text-anchor="middle" font-family="Liberation Sans, sans-serif" textLength="109" lengthAdjust="spacingAndGlyphs">20 K</text>
<clipPath id="clipcx"><rect x="922.9" y="29.6" width="445.4" height="1234.8"/></clipPath>
<text x="1304.2" y="213.6" font-size="54" font-weight="bold" fill="#fff" text-anchor="middle" font-family="Liberation Sans, sans-serif" textLength="58" lengthAdjust="spacingAndGlyphs">(c)</text>
<text x="1132.8" y="1155.0" font-size="50.5" font-weight="bold" fill="#fff" text-anchor="middle" font-family="Liberation Sans, sans-serif" textLength="109" lengthAdjust="spacingAndGlyphs">27 K</text>
<clipPath id="clipdx"><rect x="1406.7" y="29.6" width="445.4" height="1234.8"/></clipPath>
<text x="1783.8" y="213.6" font-size="54" font-weight="bold" fill="#fff" text-anchor="middle" font-family="Liberation Sans, sans-serif" textLength="66.5" lengthAdjust="spacingAndGlyphs">(d)</text>
<text x="1623.5" y="1149.3" font-size="50.5" font-weight="bold" fill="#fff" text-anchor="middle" font-family="Liberation Sans, sans-serif" textLength="110" lengthAdjust="spacingAndGlyphs">40 K</text>
</svg>
</body></html>
